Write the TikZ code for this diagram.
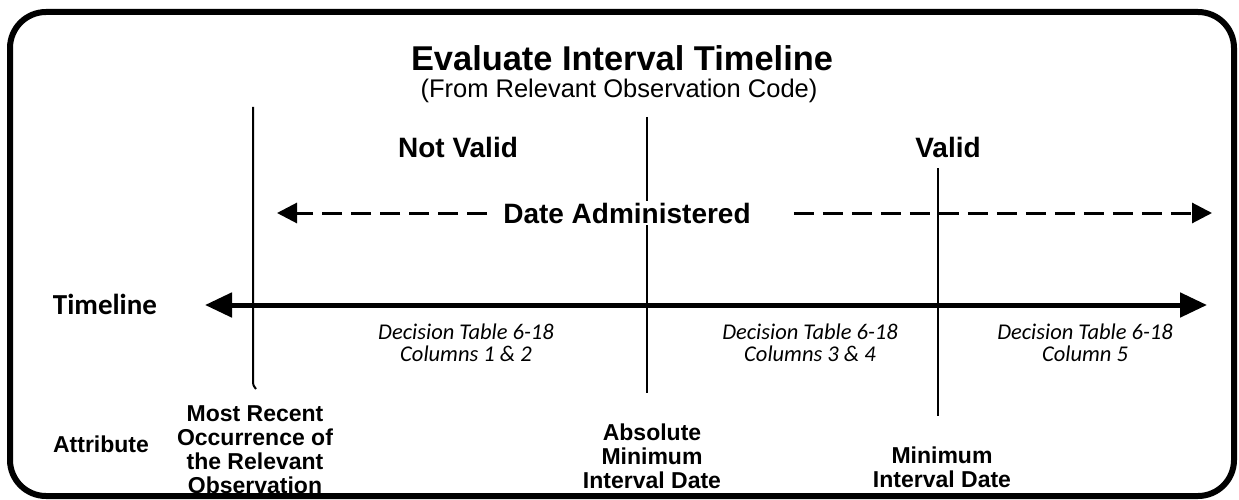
\documentclass[tikz,border=0pt]{standalone}
\usepackage{fontspec}
\setmainfont{Liberation Sans}
\newfontfamily\calfont{Carlito}
\usetikzlibrary{arrows.meta}
\begin{document}
\begin{tikzpicture}[x=1pt,y=-1pt,
  frame/.style={line width=6pt, rounded corners=36pt},
  vline/.style={line width=2pt},
  tline/.style={line width=5pt, {Triangle[length=27pt,width=24pt]}-{Triangle[length=27pt,width=24pt]}},
  darrow/.style={line width=3pt, dash pattern=on 20pt off 9pt, -{Triangle[length=20pt,width=20pt]}},
  title/.style={font=\fontsize{34.4}{40}\selectfont\bfseries, inner sep=0pt, text depth=0pt},
  subtitle/.style={font=\fontsize{25.5}{30}\selectfont, inner sep=0pt, text height=17pt},
  zone/.style={font=\fontsize{28}{34}\selectfont\bfseries, inner sep=0pt},
  attr/.style={font=\fontsize{23}{24}\selectfont\bfseries, align=center, inner sep=0pt},
  dec/.style={font=\calfont\itshape\fontsize{22.5}{21.5}\selectfont, align=center, inner sep=0pt},
  tlabel/.style={font=\calfont\bfseries\fontsize{29}{34}\selectfont, inner sep=0pt}
]
\useasboundingbox (0,0) rectangle (1239,500);
\draw[frame] (10,12) rectangle (1234,496);

\node[title] (title) at (622,58) {Evaluate Interval Timeline};
\node[subtitle] (sub) at (619,92) {(From Relevant Observation Code)};

\node[zone] (nv) at (458,147) {Not Valid};
\node[zone] (v) at (948,147) {Valid};

% vertical markers
\coordinate (v1t) at (253,107);
\coordinate (v1b) at (256,389);
\coordinate (v2t) at (647,117);
\coordinate (v2b) at (647,393);
\coordinate (v3t) at (938,168);
\coordinate (v3b) at (938,416);
\draw[vline] (v1t) -- (253,379) .. controls (253,385) .. (v1b);
\draw[vline] (v2t) -- (v2b);
\draw[vline] (v3t) -- (v3b);

% date administered
\node[zone, fill=white, inner xsep=6pt, inner ysep=2pt] (da) at (627,213) {Date Administered};
\coordinate (dl) at (277,213);
\coordinate (dr) at (1212,213);
\draw[darrow] ([xshift=-10pt]da.west) -- (dl);
\draw[darrow] ([xshift=37pt]da.east) -- (dr);

% timeline
\node[tlabel] (tl) at (105,304) {Timeline};
\coordinate (tla) at (205,305);
\coordinate (tlb) at (1207,305);
\draw[tline] (tla) -- (tlb);

% decision tables
\node[dec] (d1) at (466,343) {Decision Table 6-18\\Columns 1 \& 2};
\node[dec] (d2) at (810,343) {Decision Table 6-18\\Columns 3 \& 4};
\node[dec] (d3) at (1085,343) {Decision Table 6-18\\Column 5};

% attributes
\node[attr] (at) at (101,444) {Attribute};
\node[attr] (a1) at (255,450) {Most Recent\\Occurrence of\\the Relevant\\Observation};
\node[attr] (a2) at (652,456) {Absolute\\Minimum\\Interval Date};
\node[attr] (a3) at (942,467) {Minimum\\Interval Date};
\end{tikzpicture}
\end{document}
